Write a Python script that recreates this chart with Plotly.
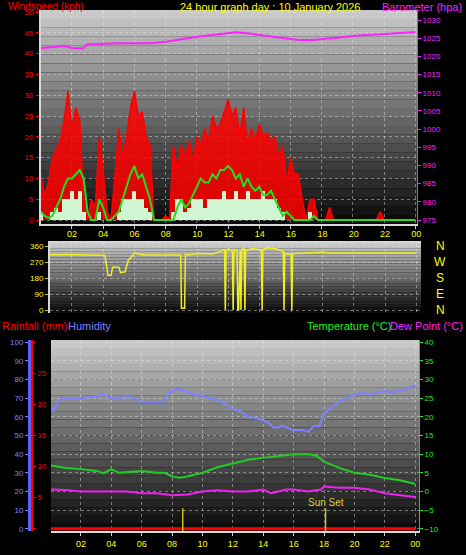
import plotly.graph_objects as go

W, H = 466, 555

# ---- data ----
hours_q = [i * 0.25 for i in range(97)]  # 15 minute steps 00:00 .. 24:00

wind_gust = [11, 6, 9, 15, 17, 19, 24, 31, 22, 27, 24, 5,
             0, 5, 3, 20, 12, 2, 0, 10, 22, 15, 20, 27,
             31, 25, 26, 20, 18, 0, 0, 0, 1, 0, 18, 12,
             18, 15, 19, 14, 20, 18, 22, 19, 25, 22, 23, 26,
             29, 25, 27, 20, 27, 18, 22, 19, 23, 20, 21, 19,
             20, 15, 18, 9, 15, 11, 11, 5, 0, 5, 5, 0,
             0, 0, 3, 0, 0, 0, 0, 0, 0, 0, 0, 0,
             0, 0, 0, 2, 0, 0, 0, 0, 0, 0, 0, 0, 0]
wind_avg = [2, 1, 0.5, 1, 3, 5, 8, 10, 10, 11, 12, 10,
            2, 0, 0, 5, 3, 0, 0, 1, 2, 5, 8, 11,
            13, 10, 11, 8, 5, 0, 0, 0, 0, 0, 0, 3,
            5, 3, 4, 6, 8, 10, 9, 9, 11, 10, 12, 12,
            13, 12, 10, 11, 8, 10, 8, 7, 8, 6, 6, 7,
            5, 3, 1, 2, 1, 0, 0, 0, 0, 0, 1, 0,
            0, 0, 0, 0, 0, 0, 0, 0, 0, 0, 0, 0,
            0, 0, 0, 0, 0, 0, 0, 0, 0, 0, 0, 0, 0]
wind_speed = [2, 0, 0, 2, 3, 2, 5, 5, 7, 5, 7, 2,
              0, 0, 0, 2, 0, 0, 0, 0, 2, 5, 5, 5,
              7, 5, 5, 3, 2, 0, 0, 0, 0, 0, 2, 5,
              5, 2, 3, 5, 5, 5, 3, 5, 5, 5, 5, 7,
              5, 5, 7, 5, 5, 7, 5, 5, 5, 7, 5, 5,
              5, 3, 2, 0, 0, 0, 0, 0, 0, 2, 0, 0,
              0, 0, 0, 0, 0, 0, 0, 0, 0, 0, 0, 0,
              0, 0, 0, 0, 0, 0, 0, 0, 0, 0, 0, 0, 0]

baro_hours = [0, 1, 1.5, 2, 2.7, 3, 5, 7, 8, 10, 11, 12.5, 13.5, 14.5, 15.5, 16.5, 17.5, 18.5, 19.5, 20.5, 21.5, 22.5, 23.5, 24]
baro = [1022.2, 1022.6, 1022.9, 1022.3, 1022.2, 1023.3, 1023.6, 1023.6, 1024.0, 1025.4, 1025.8, 1026.6, 1026.2,
        1025.6, 1025.0, 1024.5, 1024.5, 1025.0, 1025.5, 1025.8, 1026.0, 1026.3, 1026.6, 1026.7]

dir_hours = [0, 1, 2, 3, 4.1, 4.2, 4.3, 4.5, 4.6, 5.0, 5.1, 5.4, 5.6, 5.8, 6.0, 6.3, 6.6, 7, 8, 8.95, 9.0, 9.2,
             9.25, 9.4, 10, 11, 11.5, 11.75, 11.8, 11.85, 12.0, 12.25, 12.3, 12.35, 12.55, 12.6, 12.65, 12.75,
             12.8, 12.85, 13.0, 13.05, 13.1, 13.5, 14.1, 14.15, 14.2, 14.5, 15.0, 15.5, 15.55, 15.6, 15.7, 16.0,
             16.05, 16.1, 16.2, 17, 18, 18.5, 20, 24]
wind_dir = [310, 312, 312, 310, 308, 260, 195, 195, 240, 240, 210, 215, 280, 300, 320, 315, 310, 310, 310, 310, 10, 10,
            315, 310, 318, 315, 330, 340, 0, 335, 345, 330, 0, 340, 335, 0, 0, 335,
            0, 340, 345, 0, 335, 345, 340, 0, 340, 350, 345, 330, 0, 320, 315, 315,
            0, 315, 318, 322, 325, 320, 320, 320]

hum_hours = [0, 0.2, 0.5, 1, 2, 3, 3.5, 4, 4.5, 5, 5.5, 6, 7, 7.4, 7.8, 8.3, 8.8, 9.5, 10, 11, 11.5, 12, 12.5, 13,
             13.7, 14.3, 14.7, 15.3, 16, 16.5, 17, 17.3, 17.7, 18, 19, 20, 20.5, 21, 22, 22.5, 23, 23.5, 24]
humidity = [65, 63, 69, 70, 70, 71, 72, 70, 70, 71, 70, 68, 68, 68, 73, 75, 74, 72, 71, 69, 67, 64, 63, 60,
            59, 57, 54, 55, 53, 53, 52, 55, 55, 62, 68, 72, 73, 72, 74, 73, 74, 75, 77]

temp_hours = [0, 1, 2, 3, 3.5, 4, 4.5, 5, 6, 7, 7.5, 8, 8.5, 9, 10, 11, 12, 13, 14, 15, 16, 17, 17.5, 18, 19, 20,
              21, 22, 23, 24]
temperature = [7, 6.3, 6, 5.5, 4.9, 6, 5, 5.2, 5.5, 5, 5, 4, 3.7, 4, 5, 6.5, 7.5, 8.5, 9, 9.5, 10, 10, 9.5, 8,
               6.3, 5, 4.5, 3.6, 3, 2]
dew_hours = [0, 1, 2, 3, 4, 5, 6, 7, 8, 9, 10, 11, 12, 13, 14, 14.5, 15, 15.5, 16, 17, 17.8, 18, 19, 20, 21, 22,
             23, 24]
dewpoint = [0.5, 0.4, 0, 0, 0.2, 0, -0.5, -0.5, -1, -0.8, 0, 0.3, 0, 0, 0.5, -0.5, 0, 0.5, 0.5, 0, 0.5, 1.3, 1,
            1, 0.5, -0.5, -1, -1.5]
rainfall = [0] * 97

sun_hours = [8.7, 18.1]
xtick_vals = list(range(2, 25, 2))
xtick_text = ['02', '04', '06', '08', '10', '12', '14', '16', '18', '20', '22', '00']


def px_x(v):
    return v / W


def px_y(v):
    return 1 - v / H


FONT = 'Liberation Sans'
fig = go.Figure()

# --- top panel: wind + barometer
fig.add_trace(go.Scatter(x=hours_q, y=wind_gust, mode='lines', line=dict(color='#ff0000', width=1.5),
                         fill='tozeroy', fillcolor='rgba(255,0,0,0.85)', xaxis='x', yaxis='y'))
fig.add_trace(go.Scatter(x=baro_hours, y=baro, mode='lines', line=dict(color='#ff22ff', width=2),
                         xaxis='x', yaxis='y2'))
# speed bars + average on an overlay so they sit above the gust fill
fig.add_trace(go.Bar(x=hours_q, y=wind_speed, marker=dict(color='#d0f5d0', line=dict(width=0)),
                     width=0.25, xaxis='x', yaxis='y7'))
fig.add_trace(go.Scatter(x=hours_q, y=wind_avg, mode='lines', line=dict(color='#22dd22', width=2),
                         xaxis='x', yaxis='y7'))

# --- middle panel: wind direction
fig.add_trace(go.Scatter(x=dir_hours, y=wind_dir, mode='lines', line=dict(color='#f0f020', width=1.5),
                         xaxis='x2', yaxis='y3'))

# --- bottom panel
fig.add_trace(go.Scatter(x=hum_hours, y=humidity, mode='lines', line=dict(color='#8080ff', width=2),
                         xaxis='x3', yaxis='y4'))
fig.add_trace(go.Scatter(x=hours_q, y=rainfall, mode='lines', line=dict(color='#ff0000', width=3),
                         xaxis='x3', yaxis='y5'))
fig.add_trace(go.Scatter(x=temp_hours, y=temperature, mode='lines', line=dict(color='#22cc22', width=2),
                         xaxis='x3', yaxis='y6'))
fig.add_trace(go.Scatter(x=dew_hours, y=dewpoint, mode='lines', line=dict(color='#ee22ee', width=2),
                         xaxis='x3', yaxis='y6'))
for h in sun_hours:
    fig.add_trace(go.Scatter(x=[h, h], y=[-11, -4.5], mode='lines', line=dict(color='#c8c020', width=1.5),
                             xaxis='x3', yaxis='y6'))

# gradient backgrounds
panels = [(41, 417, 10, 224), (50, 421, 243, 313), (51, 419, 340, 531)]
shapes = []
n = 24
for (x0, x1, y0, y1) in panels:
    for i in range(n):
        g = int(200 - (200 - 12) * i / (n - 1))
        ya = y0 + (y1 - y0) * i / n
        yb = y0 + (y1 - y0) * (i + 1) / n
        shapes.append(dict(type='rect', xref='paper', yref='paper', x0=px_x(x0), x1=px_x(x1),
                           y0=px_y(yb), y1=px_y(ya), fillcolor=f'rgb({g},{g},{g})', line=dict(width=0),
                           layer='below'))

grid = dict(showgrid=True, gridcolor='rgba(230,230,230,0.45)', griddash='dot', gridwidth=1)
frame = dict(showline=True, linecolor='#d8d8d8', linewidth=2)
common = dict(zeroline=False, automargin=False)

annotations = [
    dict(text='Windspeed (kph)', x=px_x(6), y=px_y(-1), xanchor='left', yanchor='top', font=dict(color='#ff0000', size=10)),
    dict(text='24 hour graph day : 10 January 2026', x=px_x(270), y=px_y(-1), xanchor='center', yanchor='top',
         font=dict(color='#ffff00', size=11)),
    dict(text='Barometer (hpa)', x=px_x(464), y=px_y(-1), xanchor='right', yanchor='top', font=dict(color='#ff22ff', size=11)),
    dict(text='Rainfall (mm)', x=px_x(0), y=px_y(318), xanchor='left', yanchor='top', font=dict(color='#ff0000', size=11)),
    dict(text='Humidity', x=px_x(66), y=px_y(318), xanchor='left', yanchor='top', font=dict(color='#8080ff', size=11)),
    dict(text='Temperature (°C)', x=px_x(393), y=px_y(318), xanchor='right', yanchor='top', font=dict(color='#22ee22', size=11)),
    dict(text='Dew Point (°C)', x=px_x(465), y=px_y(318), xanchor='right', yanchor='top', font=dict(color='#ff22ff', size=11)),
    dict(text='Sun Set', x=18.1, y=-5, xref='x3', yref='y6', xanchor='center', yanchor='bottom',
         font=dict(color='#d8d030', size=10)),
]
for i, letter in enumerate(['N', 'W', 'S', 'E', 'N']):
    annotations.append(dict(text=letter, x=px_x(440), y=px_y(246 + 16 * i), xanchor='center', yanchor='middle',
                            font=dict(color='#ffff00', size=12)))
for a in annotations:
    a.setdefault('xref', 'paper')
    a.setdefault('yref', 'paper')
    a['showarrow'] = False

fig.update_layout(
    width=W, height=H, margin=dict(l=0, r=0, t=0, b=0), showlegend=False,
    paper_bgcolor='#000000', plot_bgcolor='rgba(0,0,0,0)', font=dict(family=FONT, size=8),
    bargap=0, shapes=shapes, annotations=annotations,
    xaxis=dict(domain=[px_x(41), px_x(417)], range=[0.02, 24.1], tickvals=xtick_vals, showticklabels=False,
               ticks='outside', ticklen=3, tickcolor='#cccccc', anchor='y', **grid, **frame, **common),
    yaxis=dict(domain=[px_y(224), px_y(10)], range=[-0.96, 50.48], dtick=5, tick0=0,
               tickfont=dict(color='#ff0000'), ticks='outside', ticklen=3, tickcolor='#ff0000', anchor='x',
               ticklabelstandoff=1, **grid, **frame, **common),
    yaxis2=dict(overlaying='y', side='right', anchor='x', range=[973.9, 1032.75], tickvals=list(range(975, 1031, 5)),
                tickfont=dict(color='#ff22ff'), ticks='outside', ticklen=3, tickcolor='#ff22ff', showgrid=False,
                showline=True, linecolor='#ff22ff', linewidth=1, **common),
    yaxis7=dict(overlaying='y', anchor='x', range=[-0.96, 50.48], visible=False, **common),
    xaxis2=dict(domain=[px_x(50), px_x(421)], range=[0.6, 24.3], tickvals=xtick_vals, ticktext=xtick_text,
                side='top', tickfont=dict(color='#ffff00', size=9), anchor='y3', **grid, **frame, **common),
    yaxis3=dict(domain=[px_y(313), px_y(243)], range=[-16.9, 376.9], tickvals=[0, 90, 180, 270, 360],
                tickfont=dict(color='#ffff00'), ticks='outside', ticklen=3, tickcolor='#c8c020', anchor='x2',
                **grid, **frame, **common),
    xaxis3=dict(domain=[px_x(51), px_x(419)], range=[0.03, 24.25], tickvals=xtick_vals, ticktext=xtick_text,
                tickfont=dict(color='#ffff00', size=9), ticks='outside', ticklen=3, tickcolor='#cccccc',
                anchor='y4', **grid, **frame, **common),
    yaxis4=dict(domain=[px_y(531), px_y(340)], range=[-1.23, 101.2], dtick=10, tick0=0,
                tickfont=dict(color='#8080ff'), ticks='outside', ticklen=3, tickcolor='#8080ff',
                anchor='free', position=px_x(29), showline=True, linecolor='#6060ff', linewidth=3, **grid, **common),
    yaxis5=dict(overlaying='y4', range=[-0.37, 30.37], dtick=5, tick0=0, anchor='free', position=px_x(32),
                ticklabelposition='inside', tickfont=dict(color='#ff0000'), ticks='inside', ticklen=3,
                tickcolor='#ff0000', showline=True, linecolor='#ff0000', linewidth=2, showgrid=False, **common),
    yaxis6=dict(overlaying='y4', side='right', anchor='x3', range=[-10.62, 40.62], dtick=5, tick0=0,
                tickfont=dict(color='#22ee22'), ticks='outside', ticklen=3, tickcolor='#22ee22', showgrid=False,
                showline=True, linecolor='#22cc22', linewidth=1, **common),
)

# page body has a default margin that shifts the figure; remove it
fig.write_html("out.html", config={'displayModeBar': False},
               post_script="document.body.style.margin='0';document.body.style.background='#000';")
